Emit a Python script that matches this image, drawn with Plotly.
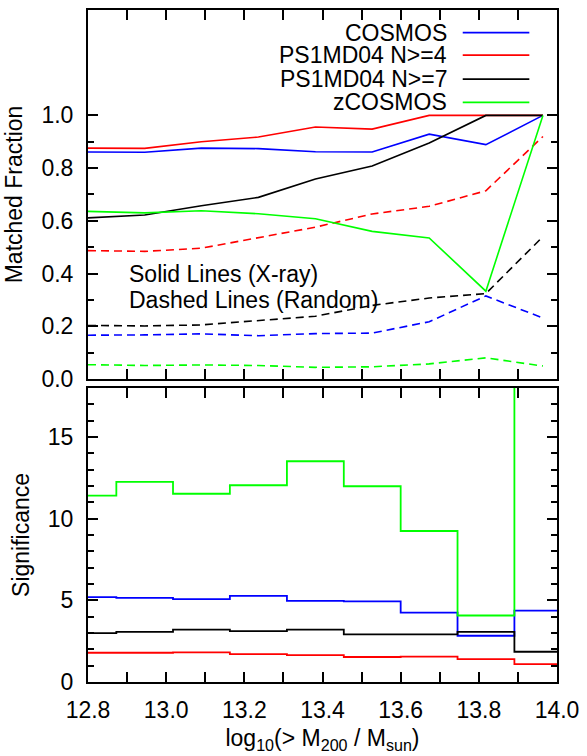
import plotly.graph_objects as go
from plotly.subplots import make_subplots

# ---------------- data ----------------
log_mass = [12.800, 12.945, 13.090, 13.236, 13.382, 13.527, 13.673, 13.818, 13.964]

# matched fraction (X-ray, solid)
cosmos_xray = [0.861, 0.860, 0.876, 0.874, 0.862, 0.861, 0.929, 0.889, 1.000]
ps1_n4_xray = [0.876, 0.875, 0.900, 0.918, 0.956, 0.948, 1.000, 1.000, 1.000]
ps1_n7_xray = [0.611, 0.622, 0.657, 0.689, 0.759, 0.808, 0.895, 1.000, 1.000]
zcosmos_xray = [0.636, 0.630, 0.638, 0.627, 0.608, 0.560, 0.535, 0.333, 1.000]

# matched fraction (random, dashed)
cosmos_rand = [0.166, 0.167, 0.171, 0.164, 0.172, 0.174, 0.217, 0.315, 0.231]
ps1_n4_rand = [0.487, 0.484, 0.496, 0.537, 0.576, 0.626, 0.655, 0.714, 0.920]
ps1_n7_rand = [0.203, 0.201, 0.205, 0.222, 0.238, 0.279, 0.307, 0.324, 0.540]
zcosmos_rand = [0.054, 0.051, 0.053, 0.051, 0.044, 0.046, 0.057, 0.080, 0.049]

# significance
cosmos_sig = [5.19, 5.15, 5.07, 5.27, 4.96, 4.94, 4.25, 2.83, 4.37]
ps1_n4_sig = [1.79, 1.79, 1.81, 1.71, 1.65, 1.53, 1.55, 1.40, 1.10]
ps1_n7_sig = [2.99, 3.07, 3.21, 3.11, 3.21, 2.91, 2.91, 3.07, 1.85]
zcosmos_sig = [11.41, 12.25, 11.52, 12.04, 13.51, 11.98, 9.24, 4.07, 25.0]

series_names = ["COSMOS", "PS1MD04 N>=4", "PS1MD04 N>=7", "zCOSMOS"]
series_colors = ["#0000ff", "#ff0000", "#000000", "#00ff00"]
xray = [cosmos_xray, ps1_n4_xray, ps1_n7_xray, zcosmos_xray]
rand = [cosmos_rand, ps1_n4_rand, ps1_n7_rand, zcosmos_rand]
sig = [cosmos_sig, ps1_n4_sig, ps1_n7_sig, zcosmos_sig]

# bin edges from centres
edges = [log_mass[0] - (log_mass[1] - log_mass[0]) / 2]
for a, b in zip(log_mass[:-1], log_mass[1:]):
    edges.append((a + b) / 2)
edges.append(log_mass[-1] + (log_mass[-1] - log_mass[-2]) / 2)

FONT = "Liberation Sans, Arial, Helvetica, sans-serif"
FS = 23

fig = make_subplots(rows=2, cols=1, shared_xaxes=True)

for name, col, ys in zip(series_names, series_colors, rand):
    fig.add_trace(go.Scatter(x=log_mass, y=ys, mode="lines", showlegend=False,
                             line=dict(color=col, width=1.6, dash="8px,5px")), row=1, col=1)
for name, col, ys in zip(series_names, series_colors, xray):
    fig.add_trace(go.Scatter(x=log_mass, y=ys, mode="lines", name=name, showlegend=False,
                             line=dict(color=col, width=1.6)), row=1, col=1)
for name, col, ys in zip(series_names, series_colors, sig):
    fig.add_trace(go.Scatter(x=edges, y=list(ys) + [ys[-1]], mode="lines", showlegend=False,
                             line=dict(color=col, width=1.8, shape="hv")), row=2, col=1)

axis_common = dict(showline=True, linecolor="black", linewidth=2, mirror="allticks",
                   ticks="inside", tickcolor="black", tickwidth=1.5, showgrid=False,
                   zeroline=False, tickfont=dict(family=FONT, size=FS, color="black"))

fig.update_xaxes(range=[12.8, 14.0], dtick=0.2, tick0=12.8, ticklen=10,
                 minor=dict(dtick=0.1, tick0=12.8, ticklen=10, ticks="inside",
                            tickcolor="black", tickwidth=1.5, showgrid=False),
                 tickformat=".1f", **axis_common)
fig.update_xaxes(showticklabels=False, row=1, col=1)
fig.update_xaxes(row=2, col=1, ticklabelstandoff=6,
                 title=dict(text="log<sub>10</sub>(> M<sub>200</sub> / M<sub>sun</sub>)",
                            font=dict(family=FONT, size=FS, color="black"), standoff=8))

fig.update_yaxes(row=1, col=1, range=[0, 1.4], tickmode="array",
                 tickvals=[0, 0.2, 0.4, 0.6, 0.8, 1.0],
                 ticktext=["0.0", "0.2", "0.4", "0.6", "0.8", "1.0"], ticklen=10,
                 minor=dict(tickmode="array", tickvals=[0.1, 0.3, 0.5, 0.7, 0.9],
                            ticklen=6, ticks="inside", tickcolor="black", tickwidth=1.5,
                            showgrid=False),
                 ticklabelstandoff=8,
                 title=dict(text="Matched Fraction", font=dict(family=FONT, size=FS, color="black"),
                            standoff=12),
                 domain=[0.451, 1.0], **axis_common)
fig.update_yaxes(row=2, col=1, range=[0, 18], dtick=5, tick0=0, ticklen=10,
                 minor=dict(dtick=1, tick0=0, ticklen=6, ticks="inside", tickcolor="black",
                            tickwidth=1.5, showgrid=False),
                 ticklabelstandoff=8,
                 title=dict(text="Significance", font=dict(family=FONT, size=FS, color="black"),
                            standoff=12),
                 domain=[0.0, 0.4377], **axis_common)

# custom key (text right-aligned, sample to the right)
key_rows = [0.9386, 0.8776, 0.8127, 0.7495]
annotations = []
shapes = []
for name, col, ry in zip(series_names, series_colors, key_rows):
    annotations.append(dict(text=name, xref="x domain", yref="y domain", x=0.767, y=ry,
                            xanchor="right", yanchor="middle", showarrow=False, borderpad=0,
                            font=dict(family=FONT, size=FS, color="black")))
    shapes.append(dict(type="line", xref="x domain", yref="y domain", x0=0.799, x1=0.941,
                       y0=ry, y1=ry, line=dict(color=col, width=1.6)))

annotations.append(dict(text="Solid Lines (X-ray)", xref="x", yref="y", x=12.9, y=0.40,
                        xanchor="left", yanchor="middle", showarrow=False,
                        font=dict(family=FONT, size=FS, color="black")))
annotations.append(dict(text="Dashed Lines (Random)", xref="x", yref="y", x=12.9, y=0.30,
                        xanchor="left", yanchor="middle", showarrow=False,
                        font=dict(family=FONT, size=FS, color="black")))

fig.update_layout(width=587, height=756, margin=dict(l=88, r=26, t=8, b=74),
                  paper_bgcolor="white", plot_bgcolor="white",
                  font=dict(family=FONT, size=FS, color="black"),
                  annotations=annotations, shapes=shapes, showlegend=False)

# remove the browser's default page margin so the figure fills the window exactly
fig.write_html("out.html", config={"displayModeBar": False},
               post_script="document.body.style.margin='0';document.body.style.overflow='hidden';")
